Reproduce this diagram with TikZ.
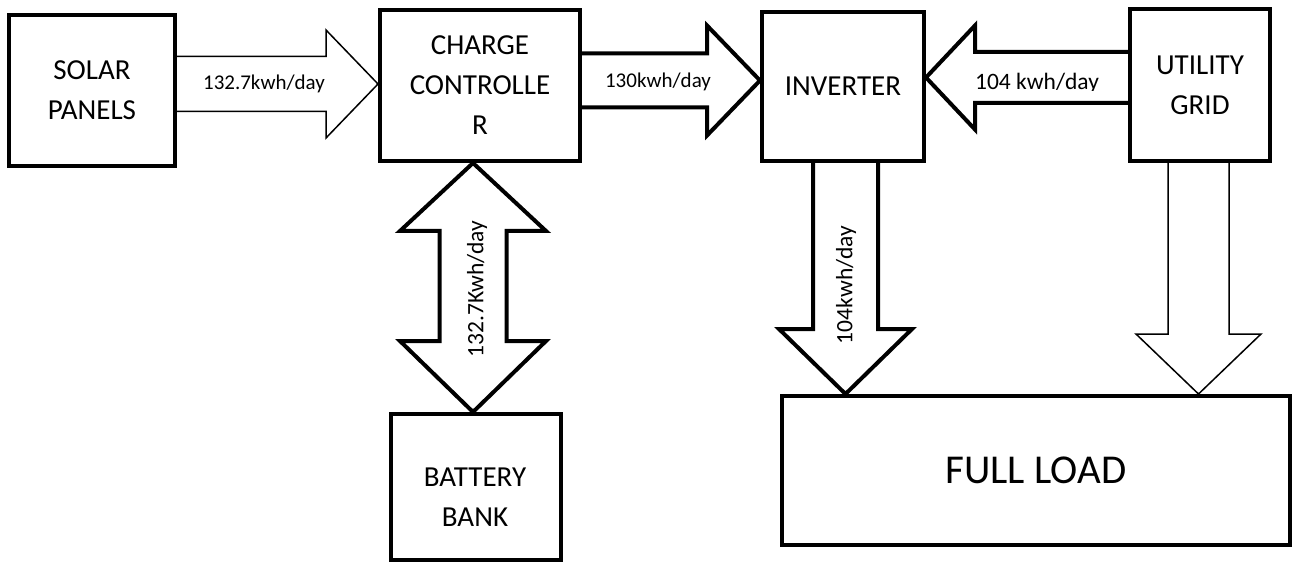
\documentclass[tikz,border=0pt]{standalone}
\usepackage{fontspec}
\setmainfont{Carlito}
\usetikzlibrary{calc,backgrounds}
\newcommand\boxfont{\fontsize{29}{40}\selectfont}
\newcommand\bigfont{\fontsize{41}{48}\selectfont}
\newcommand\lblfont{\fontsize{21}{25}\selectfont}
\newcommand\lblbigfont{\fontsize{23.5}{28}\selectfont}
\begin{document}
\begin{tikzpicture}[x=1pt,y=-1pt,
  blk/.style={draw, line width=4pt, fill=white, inner sep=0pt, font=\boxfont, align=center},
  thinarr/.style={draw, line width=1.5pt, fill=white, line join=miter},
  thickarr/.style={draw, line width=4pt, fill=white, line join=miter},
  lbl/.style={font=\lblfont, inner sep=0pt},
  lblbig/.style={font=\lblbigfont, inner sep=0pt}]
\useasboundingbox (0,0) rectangle (1296,564);

% boxes
\node[blk, minimum width=166pt, minimum height=151pt] (sp) at (92,90.5) {SOLAR\\PANELS};
\node[blk, minimum width=200pt, minimum height=151pt] (cc) at (480,85.5) {CHARGE\\CONTROLLE\\R};
\node[blk, minimum width=162pt, minimum height=149pt] (inv) at (843,86.5) {INVERTER};
\node[blk, minimum width=140pt, minimum height=152pt] (ug) at (1200,85) {UTILITY\\GRID};
\node[blk, minimum width=170pt, minimum height=146pt] (bb) at (476,487) {};
\node[font=\boxfont, align=center, inner sep=0pt] (bbt) at (475,497) {BATTERY\\BANK};
\node[blk, minimum width=508pt, minimum height=149pt, font=\bigfont] (fl) at (1036,470.5) {FULL LOAD};

% anchor points of the block arrows
\coordinate (a1s) at (sp.east |- 0,84);
\coordinate (a1t) at (cc.west |- 0,84);
\coordinate (a2s) at (cc.east |- 0,80.5);
\coordinate (a2t) at (inv.west |- 0,80.5);
\coordinate (a3s) at (ug.west |- 0,77.5);
\coordinate (a3t) at (inv.east |- 0,77.5);
\coordinate (dt) at (cc.south -| 473,0);
\coordinate (db) at (bb.north -| 473,0);
\coordinate (a4s) at (inv.south -| 845.5,0);
\coordinate (a4t) at (fl.north -| 845.5,0);
\coordinate (a5s) at (ug.south -| 1198.5,0);
\coordinate (a5t) at (fl.north -| 1198.5,0);

\begin{pgfonlayer}{background}
% solar -> charge controller
\path[thinarr] ($(a1s)+(0,-27.5)$) -- ($(a1t)+(-52,-27.5)$) -- ($(a1t)+(-52,-54)$) -- (a1t)
  -- ($(a1t)+(-52,54)$) -- ($(a1t)+(-52,27.5)$) -- ($(a1s)+(0,27.5)$);
% charge controller -> inverter
\path[thickarr] ($(a2s)+(0,-27)$) -- ($(a2t)+(-53,-27)$) -- ($(a2t)+(-53,-55)$) -- (a2t)
  -- ($(a2t)+(-53,55)$) -- ($(a2t)+(-53,27)$) -- ($(a2s)+(0,27)$);
% utility grid -> inverter
\path[thickarr] ($(a3s)+(0,-25.5)$) -- ($(a3t)+(49,-25.5)$) -- ($(a3t)+(49,-52)$) -- (a3t)
  -- ($(a3t)+(49,52)$) -- ($(a3t)+(49,25.5)$) -- ($(a3s)+(0,25.5)$);
% charge controller <-> battery bank
\path[thickarr] (dt) -- ($(dt)+(73,68)$) -- ($(dt)+(33.5,68)$) -- ($(db)+(33.5,-71)$)
  -- ($(db)+(73,-71)$) -- (db) -- ($(db)+(-73,-71)$) -- ($(db)+(-33.5,-71)$)
  -- ($(dt)+(-33.5,68)$) -- ($(dt)+(-73,68)$) -- cycle;
% inverter -> full load
\path[thickarr] ($(a4s)+(-32.5,0)$) -- ($(a4t)+(-32.5,-65)$) -- ($(a4t)+(-66.5,-65)$) -- (a4t)
  -- ($(a4t)+(66.5,-65)$) -- ($(a4t)+(32.5,-65)$) -- ($(a4s)+(32.5,0)$);
% utility grid -> full load
\path[thinarr] ($(a5s)+(-30.5,0)$) -- ($(a5t)+(-30.5,-60)$) -- ($(a5t)+(-62.5,-60)$) -- (a5t)
  -- ($(a5t)+(62.5,-60)$) -- ($(a5t)+(30.5,-60)$) -- ($(a5s)+(30.5,0)$);
\end{pgfonlayer}

% labels
\node[lbl] (l1) at (264,84) {132.7kwh/day};
\node[lbl] (l2) at (658,82) {130kwh/day};
\begin{scope}
\clip (960,40) rectangle (1110,90.5);
\node[lblbig] (l3) at (1037,83) {104 kwh/day};
\end{scope}
\node[lblbig, rotate=90] (l4) at (477,289) {132.7Kwh/day};
\node[lblbig, rotate=90] (l5) at (846,285) {104kwh/day};
\end{tikzpicture}
\end{document}
